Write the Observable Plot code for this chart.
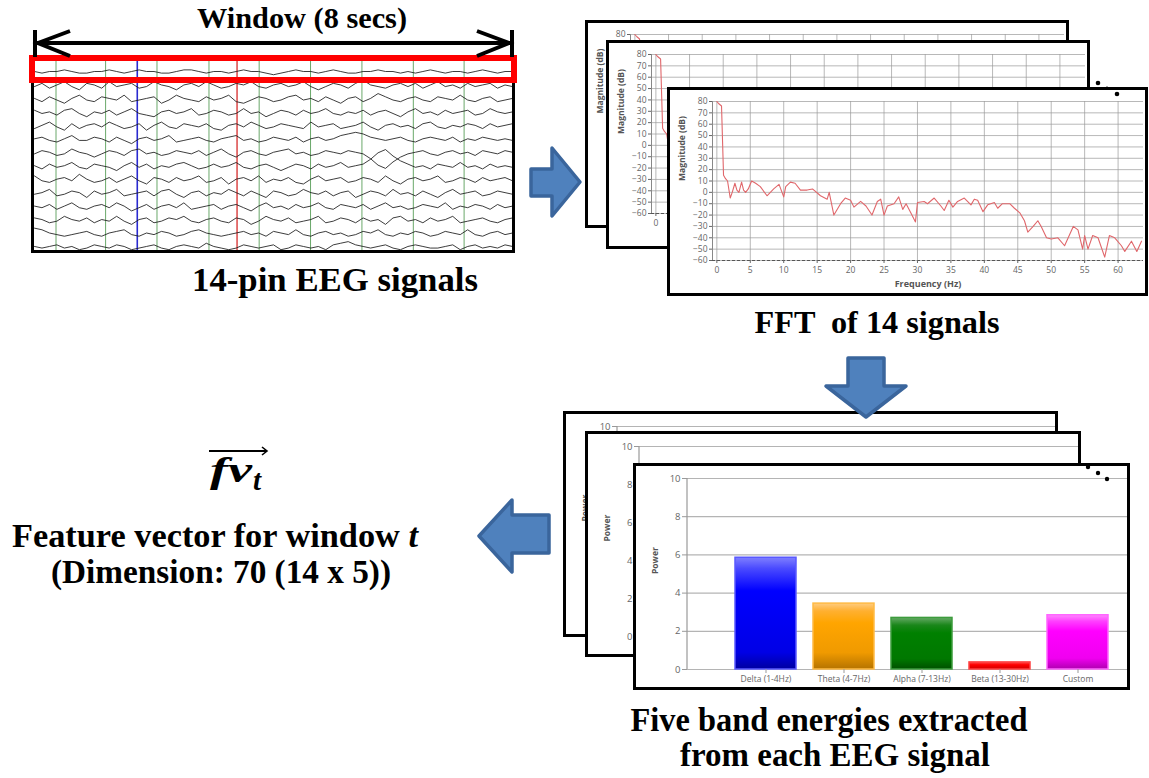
<!DOCTYPE html>
<html><head><meta charset="utf-8">
<script src="https://cdn.jsdelivr.net/npm/d3@7"></script>
<script src="https://cdn.jsdelivr.net/npm/@observablehq/plot@0.6"></script>
<style>
html,body{margin:0;padding:0;background:#fff;}
body{width:1149px;height:778px;position:relative;overflow:hidden;}
.frame{position:absolute;box-sizing:border-box;border:3px solid #000;background:#fff;overflow:hidden;}
.frame svg{display:block;}
#overlay{position:absolute;left:0;top:0;pointer-events:none;}
</style></head><body>
<script>
// ---------- DATA ----------
// EEG window: 14 channels, 8 seconds, amplitude samples (arbitrary units)
const eegSeconds = 8;
const eegGridSecs = [0.36, 1.19, 2.05, 2.92, 3.76, 4.62, 5.48, 6.34, 7.19];
const eegBlueMarker = [1.72];
const eegRedMarker = [3.39];
const eegCh1 = [0,1,0,0,-1,0,1,1,0,0,-1,0,1,0,-1,0,0,1,1,0,-1,-1,0,1,0,0,1,0,-1,0,0,1,2,1,0,-1,0,0,1,0,-1,0,1,1,0,0,-1,0,0,1,0,1,0,-1,0,1,0,0,1,0,-1,0,1,0,0];
const eegCh2 = [1,-1,2,0,-2,1,3,-1,0,2,-2,1,0,-1,2,1,-2,0,1,3,0,-1,1,-2,0,2,1,-1,0,-2,1,2,0,-1,1,0,-2,1,3,1,-1,0,2,-1,-3,0,1,2,0,-1,1,-1,2,0,-2,1,0,2,-1,1,0,-1,2,0,1];
const eegCh3 = [0,2,-1,1,3,0,-2,1,2,-1,0,1,-2,2,1,0,-1,3,1,-2,0,1,2,-1,1,0,-2,2,3,1,-1,0,2,1,-1,-2,1,0,2,-1,1,3,0,-1,2,0,-3,-1,1,2,0,-1,1,2,-1,0,1,-2,1,2,0,-1,2,1,0];
const eegCh4 = [-1,1,0,2,-1,-2,1,3,0,1,-1,2,0,-2,1,2,3,0,-1,1,0,-2,2,1,-1,0,2,1,-2,1,0,3,1,-1,0,2,-1,1,0,-2,1,2,0,1,-1,2,0,-1,1,3,0,-2,1,0,2,-1,1,0,-1,2,1,-2,0,1,0];
const eegCh5 = [2,0,-2,1,3,-1,2,0,-1,1,-2,0,2,1,-1,3,0,-2,1,2,-1,0,1,-1,2,3,0,-1,1,-2,0,2,1,-1,0,1,2,-2,1,0,-1,2,1,0,-2,1,3,0,-1,1,0,2,-1,-2,1,2,0,1,-1,0,2,-1,1,0,-1];
const eegCh6 = [0,-1,1,2,0,-2,1,1,-1,0,2,-1,1,3,0,-1,1,0,-2,2,1,0,-1,1,2,0,-1,-2,1,0,2,1,-1,0,1,-1,2,0,-1,1,0,-2,-3,-4,-3,-1,0,1,0,-1,1,2,0,-1,0,1,-1,2,0,1,-1,0,1,0,1];
const eegCh7 = [1,-1,0,2,1,-2,0,1,3,1,-1,0,2,-1,-2,1,0,2,1,-1,0,1,-1,2,0,-2,1,3,0,-1,1,2,0,-1,-2,1,0,2,1,-1,0,1,-1,0,1,4,8,10,6,3,1,0,-1,1,2,0,-1,1,0,2,-1,0,1,-1,0];
const eegCh8 = [0,2,-1,1,0,-2,1,2,-1,0,1,3,0,-2,1,-1,2,0,1,-1,-2,0,2,1,-1,1,0,-2,1,2,0,-1,1,3,1,-1,0,2,-1,1,0,-2,1,0,-1,-4,-8,-10,-6,-3,-1,1,0,2,-1,0,1,-2,1,0,2,-1,1,0,1];
const eegCh9 = [-2,1,2,0,-1,1,-3,0,2,1,-1,2,0,-2,1,3,-1,0,2,-1,1,0,-2,2,1,-1,3,0,-1,1,-2,2,0,1,-1,2,3,0,-2,1,0,-1,2,1,-1,0,2,-2,1,3,0,-1,1,0,-2,2,1,-1,0,2,-1,1,0,-1,1];
const eegCh10 = [1,0,-2,2,1,-1,0,3,-1,1,0,-2,2,1,0,-1,2,-1,-2,1,3,0,-1,2,0,1,-2,0,2,-1,1,3,-1,0,2,1,-2,0,1,-1,2,0,-1,3,1,-1,0,2,-2,1,0,2,-1,1,3,0,-2,1,0,-1,2,1,-1,0,1];
const eegCh11 = [0,1,-1,2,0,-2,1,2,0,-1,1,-2,0,3,1,-1,2,0,-1,1,-2,2,1,0,-1,2,0,-1,1,3,0,-2,1,0,2,-1,1,0,-2,1,2,-1,0,1,-1,2,0,-2,1,0,2,1,-1,0,1,-2,2,0,1,-1,0,2,-1,1,0];
const eegCh12 = [-1,0,2,1,-2,0,1,-1,2,0,1,-2,1,3,0,-1,2,1,-1,0,-2,1,2,0,-1,1,2,-1,0,3,1,-2,0,1,-1,2,1,0,-2,2,1,-1,0,2,-1,1,0,3,-1,-2,1,0,2,-1,1,0,-2,2,1,0,-1,1,2,0,-1];
const eegCh13 = [-3,-2,0,1,2,1,0,-1,1,2,0,-1,-2,1,2,0,1,-1,0,2,1,-1,-2,0,1,2,1,0,-1,1,0,2,-1,0,1,-2,1,2,0,-1,1,0,2,1,-1,0,-2,1,2,0,1,-1,0,2,1,-1,0,1,-2,1,2,0,-1,1,0];
const eegCh14 = [0,1,0,-1,1,0,2,1,-1,0,1,-1,0,2,1,0,-1,1,2,0,-1,0,1,-2,0,1,2,1,-1,0,1,0,-1,2,1,-1,0,1,0,2,-1,-2,-3,-1,0,1,0,-1,1,2,0,-1,0,1,1,0,-1,2,0,-1,1,0,1,-1,0];
const eegChannels = [eegCh1,eegCh2,eegCh3,eegCh4,eegCh5,eegCh6,eegCh7,eegCh8,eegCh9,eegCh10,eegCh11,eegCh12,eegCh13,eegCh14];

// FFT magnitude spectrum
const fftFreq = [0,0.3,0.7,1.0,1.3,1.6,2.0,2.3,2.7,3.0,3.3,3.7,4.0,4.3,4.7,5.2,5.8,6.5,7.5,8.5,9.3,10.0,10.3,11.0,11.7,12.5,13.5,14.3,15.5,16.5,16.8,17.5,18.5,19.2,20.0,20.5,21.5,22.3,23.2,24.0,24.5,25.0,25.5,26.5,27.2,27.8,28.3,29.0,29.7,30.0,31.0,31.5,32.5,33.5,34.0,34.7,35.3,36.0,37.0,38.0,38.5,39.0,39.8,40.5,41.5,42.0,42.7,43.8,44.5,45.3,46.0,46.5,47.3,48.0,48.5,49.3,50.0,51.0,52.0,53.3,54.0,54.7,55.0,55.5,56.2,57.0,58.0,58.7,59.5,60.5,61.0,62.0,62.8,63.5];
const fftMag = [80,78,76,15,12,10,-5,0,8,2,0,9,2,0,3,10,8,5,-3,3,7,-4,5,9,8,2,2,3,-3,-6,0,-20,-10,-5,-7,-13,-8,-12,-20,-8,-6,-20,-12,-10,-4,-15,-10,-18,-26,-9,-8,-10,-5,-12,-16,-7,-13,-8,-5,-11,-6,-7,-17,-11,-9,-14,-10,-10,-14,-18,-25,-35,-30,-25,-30,-40,-41,-40,-47,-30,-33,-50,-38,-50,-38,-40,-57,-38,-40,-47,-52,-43,-52,-43];
const fftTicksX = [0,5,10,15,20,25,30,35,40,45,50,55,60];
const fftTicksY = [80,70,60,50,40,30,20,10,0,-10,-20,-30,-40,-50,-60];

// Band energies
const bands = ["Delta (1-4Hz)", "Theta (4-7Hz)", "Alpha (7-13Hz)", "Beta (13-30Hz)", "Custom"];
const bandPower = [5.85, 3.45, 2.7, 0.37, 2.84];
const powerTicks = [0,2,4,6,8,10];

// ---------- STYLES ----------
const barLook = [
  {stroke:"#5a5aff", stops:[["0","#8080ff"],["0.1","#4a4aff"],["0.3","#0000ff"],["0.85","#0000e6"],["1","#0000a0"]]},
  {stroke:"#ffbb44", stops:[["0","#ffcc80"],["0.12","#ffb030"],["0.3","#ffa500"],["0.75","#f09a00"],["1","#b57300"]]},
  {stroke:"#3d9c3d", stops:[["0","#66aa66"],["0.15","#1a861a"],["0.3","#008000"],["0.8","#007800"],["1","#005000"]]},
  {stroke:"#ff4040", stops:[["0","#ff5050"],["0.4","#ff0000"],["1","#d00000"]]},
  {stroke:"#ff66ff", stops:[["0","#ff88ff"],["0.12","#ff40ff"],["0.3","#ff00ff"],["0.8","#f000f0"],["1","#b000b0"]]}
];
const tickFont = "'Open Sans', 'DejaVu Sans', sans-serif";

// ---------- HELPERS ----------
function frame(left, top, w, h, child) {
  const d = document.createElement("div");
  d.className = "frame";
  Object.assign(d.style, {left: left + "px", top: top + "px", width: w + "px", height: h + "px"});
  if (child) d.appendChild(child);
  document.body.appendChild(d);
  return d;
}

// drop texts of a back sheet whose centre lies under a sheet stacked in front of it
function hideCovered(stack) {
  stack.forEach((back, i) => {
    const covers = stack.slice(i + 1).map(f => f.getBoundingClientRect());
    back.querySelectorAll("text").forEach(t => {
      const r = t.getBoundingClientRect();
      const cx = r.left + r.width / 2, cy = r.top + r.height / 2;
      if (covers.some(c => cx >= c.left && cx <= c.right && cy >= c.top && cy <= c.bottom)) t.remove();
    });
  });
}

function eegChart(w, h) {
  const rows = eegChannels.flatMap((vals, c) =>
    vals.map((v, i) => ({ch: c + 1, t: i * eegSeconds / (vals.length - 1), v})));
  return Plot.plot({
    width: w, height: h, margin: 0,
    x: {domain: [0, eegSeconds]},
    y: {domain: [0.034, 14.3], reverse: true},
    axis: null,
    style: {background: "#fff"},
    marks: [
      Plot.ruleX(eegGridSecs, {stroke: "#6aa86a", strokeWidth: 1}),
      Plot.ruleX(eegBlueMarker, {stroke: "#2a2ad0", strokeWidth: 1.6}),
      Plot.ruleX(eegRedMarker, {stroke: "#d83a3a", strokeWidth: 1.4}),
      Plot.line(rows, {x: "t", y: d => d.ch + d.v * 0.12, z: "ch", stroke: "#1a1a1a", strokeWidth: 0.85})
    ]
  });
}

function fftChart(w, h) {
  const rows = fftFreq.map((f, i) => ({f, db: fftMag[i]}));
  return Plot.plot({
    width: w, height: h, marginLeft: 42, marginRight: 2, marginTop: 11, marginBottom: 33,
    x: {domain: [-0.65, 63.8]},
    y: {domain: [-60, 80]},
    style: {background: "#fff", fontFamily: tickFont, fontSize: "8.5px", color: "#666"},
    marks: [
      Plot.gridX(fftTicksX, {stroke: "#9a9a9a", strokeOpacity: 0.7}),
      Plot.gridY(fftTicksY, {stroke: "#9a9a9a", strokeOpacity: 0.7}),
      Plot.ruleX([-0.65], {stroke: "#888"}),
      Plot.ruleY([-60], {stroke: "#555", strokeDasharray: "3,2"}),
      Plot.axisX(fftTicksX, {tickSize: 3, tickPadding: 3, label: null, fill: "#666"}),
      Plot.axisY(fftTicksY, {tickSize: 3, tickPadding: 2, label: null, fill: "#666"}),
      Plot.text(["Frequency (Hz)"], {frameAnchor: "bottom", dy: 26, fontWeight: "bold", fill: "#555", fontSize: 9}),
      Plot.text(["Magnitude (dB)"], {frameAnchor: "left", dx: -30, rotate: -90, fontWeight: "bold", fill: "#555", fontSize: 8.5}),
      Plot.line(rows, {x: "f", y: "db", stroke: "#e0676b", strokeWidth: 1.1})
    ]
  });
}

let barCount = 0;
function barChart(w, h) {
  const prefix = "bg" + (barCount++);
  const rows = bands.map((b, i) => ({band: b, power: bandPower[i], i}));
  const svg = Plot.plot({
    width: w, height: h, marginLeft: 51, marginRight: 0, marginTop: 12, marginBottom: 18,
    x: {domain: bands, padding: 0.2156, insetLeft: 31, insetRight: 1},
    y: {domain: [0, 10]},
    color: {type: "identity"},
    style: {background: "#fff", fontFamily: tickFont, fontSize: "8.5px", color: "#666"},
    marks: [
      Plot.gridY(powerTicks, {stroke: "#b4b4b4", strokeOpacity: 1, strokeWidth: 1.2}),
      Plot.barY(rows, {x: "band", y: "power", fill: d => `url(#${prefix}-${d.i})`, stroke: d => barLook[d.i].stroke, strokeWidth: 1.5}),
      Plot.axisY(powerTicks, {tickSize: 5, tickPadding: 2, label: null, fill: "#666", stroke: "#999", fontSize: 9.5}),
      Plot.axisX({tickSize: 4, tickPadding: 2, label: null, fill: "#666", stroke: "#999"}),
      Plot.text(["Power"], {frameAnchor: "left", dx: -32, rotate: -90, fontWeight: "bold", fill: "#555", fontSize: 8.5})
    ]
  });
  const defs = d3.select(svg).insert("defs", ":first-child");
  barLook.forEach((s, i) => {
    const g = defs.append("linearGradient").attr("id", `${prefix}-${i}`)
      .attr("x1", 0).attr("y1", 0).attr("x2", 0).attr("y2", 1);
    s.stops.forEach(([o, c]) => g.append("stop").attr("offset", o).attr("stop-color", c));
  });
  // y axis line
  d3.select(svg).append("line").attr("x1", 51).attr("x2", 51).attr("y1", 12).attr("y2", h - 18)
    .attr("stroke", "#999").attr("stroke-width", 1.2);
  return svg;
}

// ---------- LAYOUT ----------
// EEG window
frame(31, 55, 484, 198, eegChart(478, 192));
// FFT stack
const fftStack = [
  frame(585, 20, 484, 208, fftChart(478, 202)),
  frame(606, 40, 484, 209, fftChart(478, 203)),
  frame(667, 87, 481, 209, fftChart(475, 203))
];
// Band energy stack
const barStack = [
  frame(563, 411, 495, 226, barChart(489, 220)),
  frame(585, 431, 496, 226, barChart(490, 220)),
  frame(633, 463, 497, 227, barChart(491, 221))
];
hideCovered(fftStack);
hideCovered(barStack);

// ---------- OVERLAY: annotations, arrows ----------
const ov = d3.select(document.body).append("svg").attr("id", "overlay")
  .attr("width", 1149).attr("height", 778);

// red selection box and window arrow
ov.append("rect").attr("x", 32).attr("y", 58).attr("width", 482).attr("height", 22)
  .attr("fill", "none").attr("stroke", "#ff0000").attr("stroke-width", 6);
const blk = g => g.attr("stroke", "#000").attr("stroke-width", 4).attr("fill", "none").attr("stroke-linecap", "butt");
blk(ov.append("line").attr("x1", 37).attr("x2", 510).attr("y1", 43).attr("y2", 43));
blk(ov.append("line").attr("x1", 35).attr("x2", 35).attr("y1", 30).attr("y2", 57));
blk(ov.append("line").attr("x1", 512).attr("x2", 512).attr("y1", 30).attr("y2", 57));
blk(ov.append("polyline").attr("points", "70,31 38,43 70,56"));
blk(ov.append("polyline").attr("points", "477,31 509,43 477,56"));

// block arrows
const arrow = pts => ov.append("polygon").attr("points", pts).attr("fill", "#4f81bd")
  .attr("stroke", "#3a659c").attr("stroke-width", 3.5).attr("stroke-linejoin", "round");
arrow("531,169 552,169 552,148 580,182 552,216 552,196 531,196");
arrow("848,358 884,358 884,386 906,386 866,417 826,386 848,386");
arrow("549,515 512,515 512,500 479,536 512,572 512,553 549,553");

// continuation dots
[[1098, 83, 2.3], [1107, 87.5, 1.1], [1117, 94, 2.3], [1088, 467, 2.2], [1098, 473, 2.2], [1107, 479, 2.2]]
  .forEach(([x, y, r]) => ov.append("circle").attr("cx", x).attr("cy", y).attr("r", r).attr("fill", "#000"));

// text labels
const serif = "'Liberation Serif', 'Times New Roman', serif";
function label(str, cx, y, size, len) {
  const t = ov.append("text").attr("x", cx).attr("y", y).attr("text-anchor", "middle")
    .attr("font-family", serif).attr("font-weight", "bold").attr("font-size", size)
    .style("white-space", "pre").attr("fill", "#000");
  if (len) t.attr("textLength", len).attr("lengthAdjust", "spacingAndGlyphs");
  t.text(str);
  return t;
}
label("Window (8 secs)", 302, 28, 30, 210);
label("14-pin EEG signals", 335, 291, 33, 286);
label("FFT  of 14 signals", 877, 333, 32, 245);
const fv = label("Feature vector for window ", 215, 547, 33, 406);
fv.append("tspan").attr("font-style", "italic").text("t");
label("(Dimension: 70 (14 x 5))", 221, 583, 33, 340);
label("Five band energies extracted", 829, 731, 33, 397);
label("from each EEG signal", 835, 766, 33, 310);

// feature vector symbol
ov.append("text").attr("x", 210).attr("y", 482).attr("font-family", serif).attr("font-weight", "bold")
  .attr("font-style", "italic").attr("font-size", 36).attr("textLength", 42).attr("lengthAdjust", "spacingAndGlyphs").text("fv");
ov.append("text").attr("x", 253).attr("y", 490).attr("font-family", serif).attr("font-weight", "bold")
  .attr("font-style", "italic").attr("font-size", 29).text("t");
ov.append("line").attr("x1", 209).attr("x2", 267).attr("y1", 451).attr("y2", 451).attr("stroke", "#000").attr("stroke-width", 1.8);
ov.append("polyline").attr("points", "262,447 267,451 262,455").attr("fill", "none").attr("stroke", "#000").attr("stroke-width", 1.6);
</script></body></html>
